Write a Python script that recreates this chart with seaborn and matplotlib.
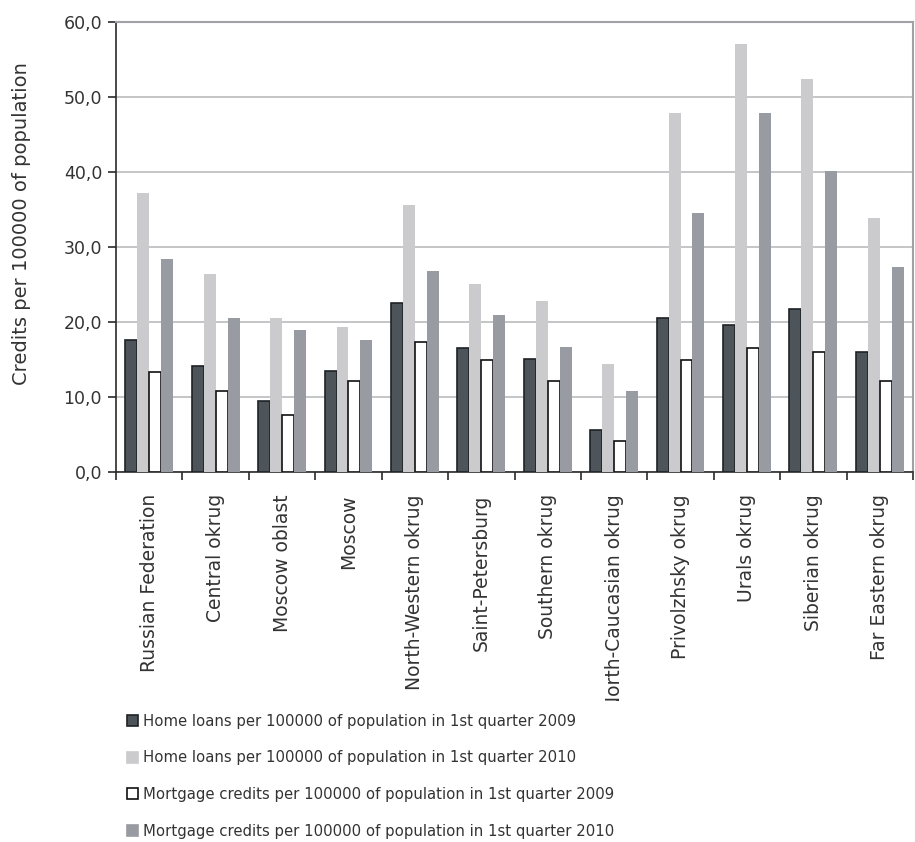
import matplotlib
matplotlib.use("Agg")
import matplotlib.pyplot as plt
from matplotlib.patches import Patch
from matplotlib.ticker import FuncFormatter, FixedLocator
from matplotlib.transforms import Bbox
import pandas as pd
import seaborn as sns

regions = [
    "Russian Federation", "Central okrug", "Moscow oblast", "Moscow",
    "North-Western okrug", "Saint-Petersburg", "Southern okrug",
    "North-Caucasian okrug", "Privolzhsky okrug", "Urals okrug",
    "Siberian okrug", "Far Eastern okrug",
]
series_names = [
    "Home loans per 100000 of population in 1st quarter 2009",
    "Home loans per 100000 of population in 1st quarter 2010",
    "Mortgage credits per 100000 of population in 1st quarter 2009",
    "Mortgage credits per 100000 of population in 1st quarter 2010",
]
home_2009 = [17.6, 14.2, 9.5, 13.5, 22.6, 16.5, 15.1, 5.6, 20.5, 19.6, 21.7, 16.0]
home_2010 = [37.2, 26.4, 20.6, 19.4, 35.6, 25.1, 22.8, 14.4, 47.9, 57.1, 52.4, 33.9]
mortgage_2009 = [13.3, 10.8, 7.6, 12.2, 17.4, 14.9, 12.2, 4.2, 14.9, 16.5, 16.0, 12.2]
mortgage_2010 = [28.4, 20.6, 19.0, 17.6, 26.8, 21.0, 16.7, 10.8, 34.6, 47.9, 40.2, 27.4]

colors = ["#4d555b", "#cbcbcd", "#ffffff", "#989ba1"]
edges = ["#1e2226", "none", "#111111", "none"]

rows = []
for name, vals in zip(series_names, [home_2009, home_2010, mortgage_2009, mortgage_2010]):
    for reg, v in zip(regions, vals):
        rows.append({"region": reg, "series": name, "value": v})
df = pd.DataFrame(rows)

sns.set_theme(style="white")
plt.rcParams["font.family"] = ["DejaVu Sans"]
text_color = "#333333"

fig = plt.figure(figsize=(9.15, 8.42), dpi=100)
ax = fig.add_axes([116 / 915, 1 - 472 / 842, (913 - 116) / 915, (472 - 22) / 842])

sns.barplot(data=df, x="region", y="value", hue="series", order=regions,
            hue_order=series_names, palette=colors, width=0.72, gap=0,
            saturation=1, legend=False, ax=ax, zorder=3)

# outline the dark and white series
n = len(regions)
for i, patch in enumerate(ax.patches[: n * 4]):
    s = i // n
    if edges[s] != "none":
        patch.set_edgecolor(edges[s])
        patch.set_linewidth(1.2)
    else:
        patch.set_linewidth(0)

ax.set_ylim(0, 60)
ax.set_xlim(-0.5, n - 0.5)
ax.set_yticks(range(0, 61, 10))
ax.yaxis.set_major_formatter(FuncFormatter(lambda v, p: f"{v:.1f}".replace(".", ",")))
ax.grid(axis="y", color="#b3b5b8", linewidth=1.1, zorder=0)
ax.grid(axis="x", visible=False)

for side in ["top", "right"]:
    ax.spines[side].set_color("#a0a2a5")
    ax.spines[side].set_linewidth(1.5)
for side in ["left", "bottom"]:
    ax.spines[side].set_color("#2a2a2a")
    ax.spines[side].set_linewidth(1.2)

# tick marks sit between categories, labels centred under groups
ax.xaxis.set_major_locator(FixedLocator([i - 0.5 for i in range(n + 1)]))
ax.xaxis.set_major_formatter(FuncFormatter(lambda v, p: ""))
ax.xaxis.set_minor_locator(FixedLocator(list(range(n))))
ax.set_xticklabels(regions, minor=True, rotation=90, fontsize=13.5, color=text_color)
ax.tick_params(axis="x", which="major", bottom=True, length=6, width=1.2, color="#2a2a2a")
ax.tick_params(axis="x", which="minor", bottom=False, length=0, pad=16)
ax.tick_params(axis="y", left=True, length=6, width=1.2, color="#2a2a2a",
               labelsize=12.5, labelcolor=text_color, pad=4)
ax.set_xlabel("")
ax.set_ylabel("")

fig.text(22 / 915, 1 - 224 / 842, "Credits per 100000 of population", rotation=90,
         ha="center", va="center", fontsize=14, color=text_color)

# clip long category labels above the legend area
fig.canvas.draw()
clip = Bbox.from_extents(0, 842 - 701, 915, 842)
for lbl in ax.get_xticklabels(minor=True):
    lbl.set_clip_on(True)
    lbl.set_clip_box(clip)

handles = [Patch(facecolor=c, edgecolor=(e if e != "none" else c), linewidth=1.2)
           for c, e in zip(colors, edges)]
fig.legend(handles, series_names, loc="upper left",
           bbox_to_anchor=(121 / 915, 1 - 708 / 842), frameon=False,
           fontsize=10.7, labelcolor=text_color, handlelength=0.75, handleheight=0.75,
           handletextpad=0.35, labelspacing=1.45, borderaxespad=0)

fig.savefig("out.png", dpi=100)
